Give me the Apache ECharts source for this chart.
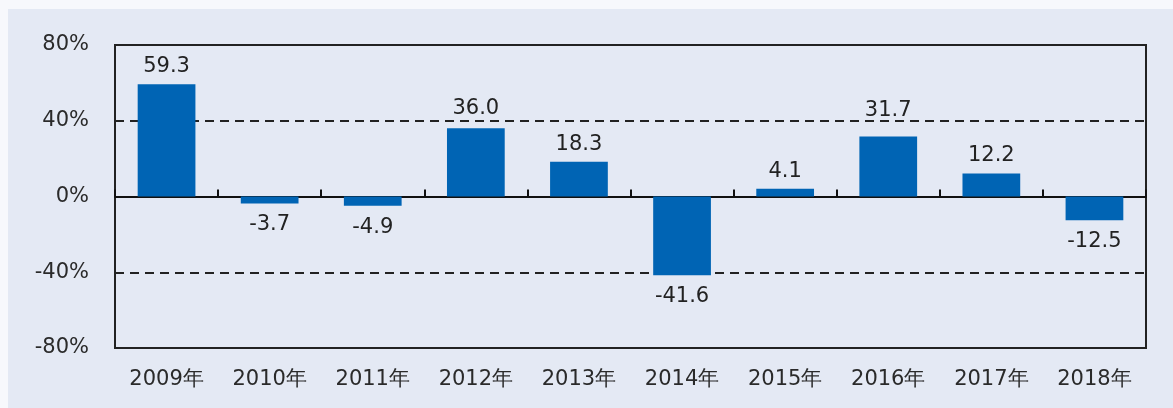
<!DOCTYPE html>
<html><head><meta charset="utf-8">
<script src="https://cdn.jsdelivr.net/npm/echarts@6/dist/echarts.min.js"></script>
<style>
html,body{margin:0;padding:0;background:#f7f8fc;}
#panel{position:absolute;left:8px;top:9px;width:1165px;height:399px;background:#e4e9f4;}
#chart{position:absolute;left:0;top:0;width:1173px;height:408px;}
</style></head>
<body>
<div id="panel"></div>
<div id="chart"></div>
<script>
const categories = ['2009年','2010年','2011年','2012年','2013年','2014年','2015年','2016年','2017年','2018年'];
const values = [59.3, -3.7, -4.9, 36.0, 18.3, -41.6, 4.1, 31.7, 12.2, -12.5];
const yTicks = [-80, -40, 0, 40, 80];

// label placement tweaks (style only)
const labelGapOverride = {'2016年':15, '2012年':9};

const chart = echarts.init(document.getElementById('chart'));
const font = 'DejaVu Sans, Verdana, sans-serif';
chart.setOption({
  animation:false,
  backgroundColor:'transparent',
  grid:{left:115,right:27,top:45,bottom:60,show:true,borderColor:'#222',borderWidth:2,backgroundColor:'transparent'},
  xAxis:[{
    type:'category',data:categories,position:'bottom',
    axisLine:{show:false,onZero:false},axisTick:{show:false},
    axisLabel:{color:'#2a2a2a',fontSize:21,fontFamily:font,margin:21}
  },{
    type:'category',data:categories,position:'bottom',
    axisLine:{show:true,onZero:true,lineStyle:{color:'#111',width:2}},
    axisTick:{show:true,inside:true,length:7,lineStyle:{color:'#111',width:2}},
    axisLabel:{show:false}
  }],
  yAxis:{
    type:'value',min:yTicks[0],max:yTicks[yTicks.length-1],interval:40,
    axisLine:{show:false},axisTick:{show:false},
    axisLabel:{color:'#2a2a2a',fontSize:21,fontFamily:font,margin:26,formatter:v=>v+'%'},
    splitLine:{show:true,lineStyle:{color:'#222',width:2,type:[9,6]}}
  },
  series:[{
    type:'bar',
    data:values.map((v,i)=>({value:v,label:{
      position:v>=0?'top':'bottom',
      distance:labelGapOverride[categories[i]] ?? (v>=0?7:11)}})),
    xAxisIndex:1,
    barWidth:'56%',
    itemStyle:{color:'#0064b4'},
    label:{show:true,color:'#222',fontSize:21,fontFamily:font,formatter:p=>p.value.toFixed(1)}
  }]
});
</script>
</body></html>
